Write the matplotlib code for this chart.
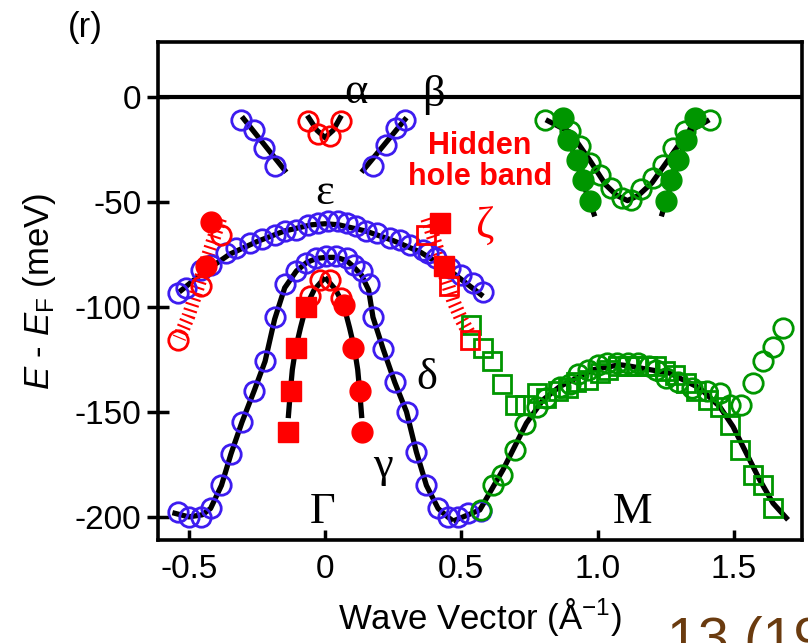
import matplotlib
matplotlib.use('Agg')
import matplotlib.pyplot as plt

plt.rcParams['font.family'] = ['Liberation Sans', 'DejaVu Sans']
plt.rcParams['axes.unicode_minus'] = False
plt.rcParams['mathtext.fontset'] = 'custom'
plt.rcParams['mathtext.rm'] = 'Liberation Sans'
plt.rcParams['mathtext.it'] = 'Liberation Sans:italic'

BLUE = '#3d1cf0'
RED = '#ff0000'
GREEN = '#009600'

# --- alpha / beta (outer blue branches near E_F) ---
ab_left_x = [-0.309, -0.260, -0.223, -0.185]
ab_left_y = [-11, -15.7, -24.4, -33]
ab_right_x = [0.292, 0.262, 0.225, 0.176]
ab_right_y = [-11, -15, -23, -33]
ab_left_line_x = [-0.305, -0.142]
ab_left_line_y = [-9.5, -36]
ab_right_line_x = [0.299, 0.134]
ab_right_line_y = [-10, -36]

# red alpha pocket
alpha_x = [-0.062, 0.060, -0.026, 0.017]
alpha_y = [-11.7, -11.7, -18, -18.6]
alpha_line_x = [-0.065, -0.03, 0.0, 0.03, 0.06]
alpha_line_y = [-9, -16, -19.5, -16, -9]

# --- epsilon band ---
eps_x = [-0.539, -0.509, -0.454, -0.417, -0.362, -0.325, -0.276, -0.233, -0.185, -0.148,
         -0.105, -0.062, -0.026, 0.011, 0.048, 0.079, 0.115, 0.152, 0.189, 0.237,
         0.274, 0.311, 0.360, 0.378, 0.409, 0.458, 0.500, 0.543, 0.580]
eps_y = [-93.5, -91.1, -82.4, -80, -74.4, -72, -69.7, -67.8, -65.7, -64.1,
         -63.3, -61, -60.1, -59.3, -59.3, -60.1, -61.8, -64.1, -64.9, -67.3,
         -68.1, -70.5, -72.9, -74.4, -76.8, -81.6, -84.8, -88.7, -93.2]
eps_line_x = [-0.535, -0.45, -0.35, -0.25, -0.15, -0.05, 0.0, 0.05, 0.15, 0.25, 0.35, 0.45, 0.52, 0.58]
eps_line_y = [-93, -84, -75, -69, -64, -61, -60.5, -61, -64, -68.5, -74, -82, -89, -95]

# --- delta band ---
delta_x = [-0.54, -0.50, -0.455, -0.42, -0.38, -0.345, -0.305, -0.26, -0.22, -0.185, -0.148,
           -0.105, -0.068, -0.032, 0.005, 0.042, 0.079, 0.105, 0.134, 0.16, 0.176, 0.213,
           0.256, 0.299, 0.335, 0.372, 0.415, 0.451, 0.488, 0.525, 0.574]
delta_y = [-197.5, -200, -200, -196, -185, -170, -155, -140, -126, -105, -89,
           -83, -79, -77, -76, -76, -77, -80, -83, -89, -105, -120,
           -136, -150, -169, -185, -196, -200, -200, -198, -197]
delta_line_x = [-0.56, -0.50, -0.45, -0.42, -0.38, -0.345, -0.305, -0.26, -0.22, -0.185, -0.148,
                -0.105, -0.068, -0.032, 0.005, 0.042, 0.079, 0.105, 0.134, 0.16, 0.176, 0.213,
                0.256, 0.299, 0.335, 0.372, 0.415, 0.45, 0.47]
delta_line_y = [-198, -200, -199, -196, -185, -170, -155, -140, -126, -106, -91,
                -83, -79, -77, -76.5, -76.5, -78, -81, -85, -92, -105, -120,
                -136, -150, -169, -185, -196, -200, -202]

# --- gamma band ---
gamma_sq_x = [-0.068, -0.108, -0.126, -0.136]
gamma_sq_y = [-100.2, -119.7, -140.3, -159.8]
gamma_dot_x = [0.069, 0.103, 0.127, 0.137]
gamma_dot_y = [-99, -119.7, -140.3, -159.8]
gamma_open_x = [-0.056, -0.02, 0.017, 0.06]
gamma_open_y = [-95, -87.5, -87.5, -96]
gamma_lline_x = [0.0, -0.04, -0.07, -0.09, -0.108, -0.12, -0.127, -0.135]
gamma_lline_y = [-86, -92, -100, -110, -120, -130, -140, -153]
gamma_rline_x = [0.0, 0.04, 0.07, 0.09, 0.108, 0.12, 0.127, 0.135]
gamma_rline_y = [-86, -92, -100, -110, -120, -130, -140, -153]

# --- zeta (hidden hole band) ---
zeta_ldot_x = [-0.42, -0.435]
zeta_ldot_y = [-59.8, -80.5]
zeta_lopen_x = [-0.38, -0.454, -0.539]
zeta_lopen_y = [-66, -90, -116]
zeta_rsq_x = [0.421, 0.436]
zeta_rsq_y = [-60, -80.5]
zeta_ropen_x = [0.37, 0.455, 0.531]
zeta_ropen_y = [-66, -90.3, -116]
zeta_lhatch_x = [-0.385, -0.41, -0.44, -0.47, -0.50, -0.535]
zeta_lhatch_y = [-58, -68, -80, -92, -104, -115]
zeta_rhatch_x = [0.375, 0.41, 0.44, 0.47, 0.50, 0.53]
zeta_rhatch_y = [-58, -72, -85, -97, -106, -113]

# --- M point electron pockets (top) ---
mv_open_x = [0.806, 0.898, 0.935, 0.971, 1.008, 1.051, 1.088, 1.124, 1.161, 1.204, 1.240, 1.277, 1.320, 1.412]
mv_open_y = [-11.3, -16.5, -23.7, -31.6, -37.1, -43.5, -48.2, -49, -44, -38.7, -32.4, -24.4, -16.5, -11.3]
mv_line_x = [0.81, 0.9, 0.97, 1.03, 1.07, 1.11, 1.15, 1.2, 1.26, 1.33, 1.41]
mv_line_y = [-11, -17, -30, -42, -47, -49.5, -47, -41, -30, -17, -11]
mv_ldot_x = [0.873, 0.892, 0.923, 0.947, 0.971]
mv_rdot_x = [1.357, 1.326, 1.295, 1.271, 1.253]
mv_dot_y = [-10.1, -20.5, -30, -39.5, -49.8]
mv_lline_x = [0.87, 0.90, 0.93, 0.96, 0.99]
mv_rline_x = [1.355, 1.32, 1.29, 1.26, 1.234]
mv_line2_y = [-10, -22, -34, -46, -57]

# --- M point lower band ---
m_sq_x = [0.537, 0.58, 0.614, 0.651, 0.696, 0.733, 0.776, 0.812, 0.855, 0.892, 0.922, 0.965, 1.008, 1.039,
          1.075, 1.11, 1.145, 1.18, 1.216, 1.247, 1.283, 1.326, 1.363, 1.406, 1.448, 1.485, 1.521,
          1.571, 1.607, 1.644]
m_sq_y = [-108.6, -119.7, -126, -136.7, -146.7, -146.7, -141, -143.5, -140.3, -138.7, -135.6, -134.8, -131.6,
          -130, -128.4, -128.4, -128.4, -128.4, -128.4, -130.8, -132.4, -136.3, -140.3, -144.3, -147.5,
          -156.2, -168, -180, -184.8, -195.9]
m_open_x = [0.574, 0.617, 0.651, 0.696, 0.735, 0.776, 0.812, 0.861, 0.898, 0.928, 0.965, 1.002, 1.033,
            1.07, 1.11, 1.15, 1.19, 1.216, 1.253, 1.295, 1.345, 1.40, 1.448, 1.485, 1.528, 1.571,
            1.607, 1.644, 1.681]
m_open_y = [-196.7, -184.8, -180, -168, -156, -147.5, -143.5, -138, -136.6, -131.8, -130.2, -127.8, -127,
            -127, -127, -127, -128, -130, -134, -135.6, -138.7, -140, -141.1, -146.7, -146.7, -136.3,
            -126, -119.2, -110.1]
m_line_x = [0.47, 0.568, 0.653, 0.739, 0.80, 0.861, 0.983, 1.081, 1.106, 1.265, 1.375, 1.448, 1.497,
            1.546, 1.595, 1.644, 1.699]
m_line_y = [-202, -196.7, -177.6, -155.4, -144.3, -138, -130, -127.6, -128, -131.6, -138.7, -147.5, -157,
            -169.7, -182.4, -193.5, -201.4]

xticks = [-0.5, 0, 0.5, 1.0, 1.5]
xtick_labels = ['-0.5', '0', '0.5', '1.0', '1.5']
yticks = [0, -50, -100, -150, -200]
ytick_labels = ['0', '-50', '-100', '-150', '-200']

fig = plt.figure(figsize=(8.08, 6.43), dpi=100)
ax = fig.add_axes([0.1955, 0.1602, 0.797, 0.7745])

lw = 3.8
ms = 14
mew = 2

# black fit lines
for lx, ly in [(ab_left_line_x, ab_left_line_y), (ab_right_line_x, ab_right_line_y),
               (alpha_line_x, alpha_line_y), (eps_line_x, eps_line_y),
               (delta_line_x, delta_line_y), (gamma_lline_x, gamma_lline_y),
               (gamma_rline_x, gamma_rline_y), (mv_line_x, mv_line_y),
               (mv_lline_x, mv_line2_y), (mv_rline_x, mv_line2_y), (m_line_x, m_line_y)]:
    ax.plot(lx, ly, color='black', lw=lw, solid_capstyle='butt', zorder=2)

# hatched hidden band
for hx, hy in [(zeta_lhatch_x, zeta_lhatch_y), (zeta_rhatch_x, zeta_rhatch_y)]:
    ax.plot(hx, hy, color=RED, lw=10, dashes=(0.15, 0.28), solid_capstyle='butt',
            dash_capstyle='butt', zorder=2.5)

op = dict(ls='none', marker='o', ms=ms, mfc='none', mew=mew, zorder=3)
ax.plot(ab_left_x, ab_left_y, mec=BLUE, **op)
ax.plot(ab_right_x, ab_right_y, mec=BLUE, **op)
ax.plot(eps_x, eps_y, mec=BLUE, **op)
ax.plot(delta_x, delta_y, mec=BLUE, **op)
ax.plot(alpha_x, alpha_y, mec=RED, **op)
ax.plot(gamma_open_x, gamma_open_y, mec=RED, **op)
ax.plot(zeta_lopen_x, zeta_lopen_y, mec=RED, **op)

ax.plot(mv_open_x, mv_open_y, mec=GREEN, **op)
ax.plot(m_open_x, m_open_y, mec=GREEN, **op)
ax.plot(m_sq_x, m_sq_y, ls='none', marker='s', ms=13, mfc='none', mec=GREEN, mew=mew, zorder=3)
ax.plot(mv_ldot_x, mv_dot_y, ls='none', marker='o', ms=15, color=GREEN, zorder=3.5)
ax.plot(mv_rdot_x, mv_dot_y, ls='none', marker='o', ms=15, color=GREEN, zorder=3.5)

ax.plot(zeta_ropen_x, zeta_ropen_y, ls='none', marker='s', ms=13, mfc='none', mec=RED, mew=mew, zorder=4)
ax.plot(gamma_sq_x, gamma_sq_y, ls='none', marker='s', ms=14, color=RED, zorder=4)
ax.plot(zeta_rsq_x, zeta_rsq_y, ls='none', marker='s', ms=14, color=RED, zorder=4)
ax.plot(gamma_dot_x, gamma_dot_y, ls='none', marker='o', ms=15, color=RED, zorder=4)
ax.plot(zeta_ldot_x, zeta_ldot_y, ls='none', marker='o', ms=15, color=RED, zorder=4)

ax.axhline(0, color='black', lw=3, zorder=2)

# band labels
greek = dict(family=['Liberation Serif', 'DejaVu Serif'], fontsize=32, ha='center', va='center', zorder=5)
ax.text(0.115, 2, '\u03b1', **greek)
ax.text(0.396, 1, '\u03b2', **greek)
ax.text(0.0, -46, '\u03b5', **greek)
ax.text(0.586, -62, '\u03b6', color=RED, **greek)
ax.text(0.372, -134, '\u03b4', **greek)
ax.text(0.213, -176, '\u03b3', **greek)
ax.text(-0.007, -197.5, '\u0393', **greek)
ax.text(1.13, -197.5, 'M', **greek)
ax.text(0.568, -31, 'Hidden\nhole band', color=RED, fontsize=22, fontweight='bold',
        ha='center', va='center', linespacing=1.05, zorder=5)

ax.set_xlim(-0.613, 1.75)
ax.set_ylim(-211, 26)
ax.set_xticks(xticks)
ax.set_xticklabels(xtick_labels)
ax.set_yticks(yticks)
ax.set_yticklabels(ytick_labels)
ax.tick_params(axis='x', direction='in', length=7, width=2.5, pad=10, labelsize=24)
ax.tick_params(axis='y', direction='inout', length=16, width=2.5, pad=4, labelsize=24)
for s in ax.spines.values():
    s.set_linewidth(2.6)

ax.set_xlabel('Wave Vector (\u00c5$^{-1}$)', fontsize=25, labelpad=8)
ax.set_ylabel('$\\it{E}$ - $\\it{E}_{\\rm F}$ (meV)', fontsize=25, labelpad=12)

fig.text(0.084, 0.958, '(r)', fontsize=25, va='center', ha='left')
fig.text(0.826, -0.02, '13 (19', fontsize=40, color='#6a3b0f', va='baseline', ha='left')

fig.savefig('out.png', dpi=100)
